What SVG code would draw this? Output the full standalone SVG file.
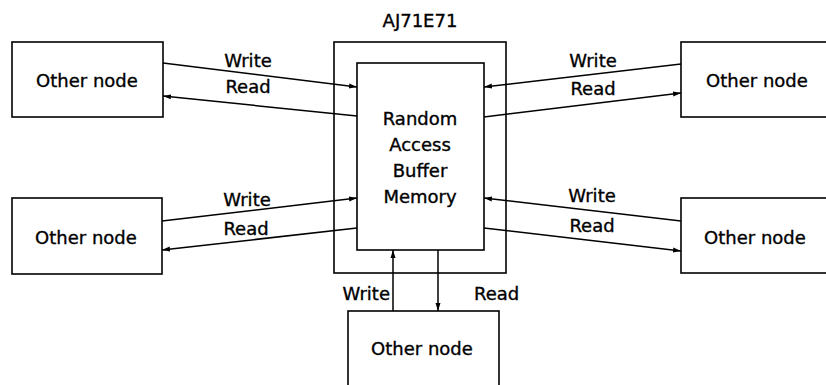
<svg xmlns="http://www.w3.org/2000/svg" width="826" height="385" viewBox="0 0 826 385">
  <defs>
    <marker id="arr" markerUnits="userSpaceOnUse" markerWidth="10" markerHeight="8" refX="8" refY="3" orient="auto">
      <path d="M0,0.5 L8,3 L0,5.5 Z" fill="#000"/>
    </marker>
    <style>
      .box { fill: #fff; stroke: #000; stroke-width: 1.6; }
      .t { font-family: "DejaVu Sans", "Liberation Sans", sans-serif; font-size: 18px; fill: #000; stroke: #000; stroke-width: 0.35; }
      .c { text-anchor: middle; }
      .ln { stroke: #000; stroke-width: 1.5; fill: none; marker-end: url(#arr); }
    </style>
  </defs>
  <rect width="826" height="385" fill="#fff"/>

  <g id="aj71e71">
    <text class="t c" x="420" y="27" font-size="19">AJ71E71</text>
    <rect class="box" x="334" y="42" width="172" height="231"/>
  </g>
  <g id="buffer">
    <rect class="box" x="357" y="63" width="127" height="187"/>
    <text class="t c" x="420" y="125">Random</text>
    <text class="t c" x="420" y="151">Access</text>
    <text class="t c" x="420" y="177">Buffer</text>
    <text class="t c" x="420" y="203">Memory</text>
  </g>

  <g id="node-tl">
    <rect class="box" x="12" y="42" width="151" height="75"/>
    <text class="t c" x="87" y="87">Other node</text>
  </g>
  <g id="node-tr">
    <rect class="box" x="681" y="42" width="150" height="75"/>
    <text class="t c" x="757" y="87">Other node</text>
  </g>
  <g id="node-bl">
    <rect class="box" x="12" y="198" width="150" height="76"/>
    <text class="t c" x="86" y="244">Other node</text>
  </g>
  <g id="node-br">
    <rect class="box" x="681" y="198" width="150" height="75"/>
    <text class="t c" x="755" y="244">Other node</text>
  </g>
  <g id="node-b">
    <rect class="box" x="348" y="311" width="151" height="85"/>
    <text class="t c" x="422" y="355">Other node</text>
  </g>

  <g id="connectors">
    <line class="ln" x1="163" y1="63" x2="357" y2="87"/>
    <line class="ln" x1="357" y1="116" x2="163" y2="96"/>
    <line class="ln" x1="681" y1="64" x2="484" y2="87"/>
    <line class="ln" x1="484" y1="117" x2="681" y2="93"/>
    <line class="ln" x1="162" y1="221" x2="357" y2="198"/>
    <line class="ln" x1="357" y1="228" x2="162" y2="250"/>
    <line class="ln" x1="681" y1="221" x2="484" y2="198"/>
    <line class="ln" x1="484" y1="228" x2="681" y2="251"/>
    <line class="ln" x1="393" y1="311" x2="393" y2="250"/>
    <line class="ln" x1="438" y1="250" x2="438" y2="311"/>

    <text class="t c" x="248" y="67">Write</text>
    <text class="t c" x="248" y="93">Read</text>
    <text class="t c" x="593" y="67">Write</text>
    <text class="t c" x="593" y="95">Read</text>
    <text class="t c" x="247" y="206">Write</text>
    <text class="t c" x="246" y="235">Read</text>
    <text class="t c" x="592" y="202">Write</text>
    <text class="t c" x="592" y="232">Read</text>
    <text class="t" x="390" y="300" text-anchor="end">Write</text>
    <text class="t" x="474" y="300">Read</text>
  </g>
</svg>
